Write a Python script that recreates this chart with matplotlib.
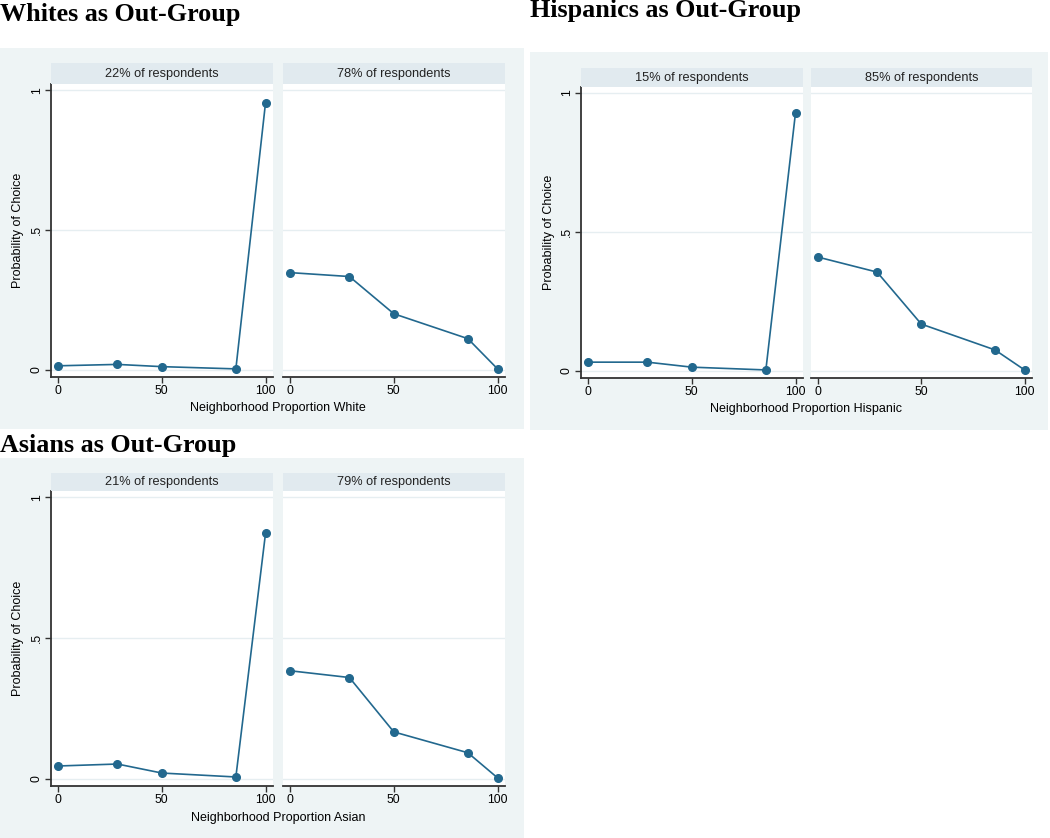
import matplotlib
matplotlib.use("Agg")
import matplotlib.pyplot as plt
from matplotlib.patches import Rectangle

W, H = 1050, 838

# neighborhood composition (percent out-group) shown in each card
x_prop = [0, 28.6, 50, 85.7, 100]

# Whites as out-group
white_share = ["22% of respondents", "78% of respondents"]
white_a = [0.015, 0.020, 0.012, 0.004, 0.955]
white_b = [0.348, 0.334, 0.201, 0.112, 0.004]

# Hispanics as out-group
hisp_share = ["15% of respondents", "85% of respondents"]
hisp_a = [0.032, 0.032, 0.014, 0.004, 0.930]
hisp_b = [0.410, 0.356, 0.169, 0.076, 0.004]

# Asians as out-group
asian_share = ["21% of respondents", "79% of respondents"]
asian_a = [0.046, 0.053, 0.021, 0.007, 0.872]
asian_b = [0.384, 0.360, 0.167, 0.093, 0.004]

BG = "#EEF4F5"
STRIP = "#E1EAEF"
LINE = "#22688E"
AXC = "#333333"

plt.rcParams["font.family"] = ["Liberation Sans", "DejaVu Sans"]

fig = plt.figure(figsize=(W / 100, H / 100), dpi=100)
fig.patch.set_facecolor("white")


def frac(x0, y0, x1, y1):
    return [x0 / W, 1 - y1 / H, (x1 - x0) / W, (y1 - y0) / H]


def panel(title, title_xy, bg, facets, top, bottom, strip_top, labels, series, xlabel, ylab_x, xlab_y):
    x0, y0, x1, y1 = bg
    fig.add_artist(Rectangle((x0 / W, 1 - y1 / H), (x1 - x0) / W, (y1 - y0) / H,
                             transform=fig.transFigure, facecolor=BG,
                             edgecolor="none", zorder=0))
    fig.text(title_xy[0] / W, 1 - title_xy[1] / H, title, family="Liberation Serif",
             fontweight="bold", fontsize=18.8, ha="left", va="center")

    for i, ((fx0, fx1), lab, yv) in enumerate(zip(facets, labels, series)):
        ax = fig.add_axes(frac(fx0, top, fx1, bottom))
        ax.set_facecolor("white")
        for g in (0, 0.5, 1):
            ax.axhline(g, color="#E6EEF1", lw=1.0, zorder=1)
        ax.plot(x_prop, yv, color=LINE, lw=1.2, marker="o", ms=5.5, zorder=3)
        ax.set_xlim(-3.4, 103.6)
        ax.set_ylim(-0.025, 1.022)
        ax.set_xticks([0, 50, 100])
        ax.tick_params(axis="x", direction="out", length=4, width=1, color=AXC,
                       labelsize=8.8, pad=1.5)
        for s in ("top", "right"):
            ax.spines[s].set_visible(False)
        ax.spines["bottom"].set_color(AXC)
        ax.spines["bottom"].set_linewidth(1.3)
        if i == 0:
            ax.spines["left"].set_color(AXC)
            ax.spines["left"].set_linewidth(1.3)
            ax.set_yticks([0, 0.5, 1])
            ax.set_yticklabels(["0", ".5", "1"], rotation=90, va="center")
            ax.tick_params(axis="y", direction="out", length=4, width=1, color=AXC,
                           labelsize=8.8, pad=2)
        else:
            ax.spines["left"].set_visible(False)
            ax.set_yticks([])

        sx = fig.add_axes(frac(fx0, strip_top, fx1, top))
        sx.set_facecolor(STRIP)
        sx.set_xticks([])
        sx.set_yticks([])
        for s in sx.spines.values():
            s.set_visible(False)
        sx.text(0.5, 0.5, lab, ha="center", va="center", fontsize=9.2,
                color="#222222", transform=sx.transAxes)

    mid = (facets[0][0] + facets[1][1]) / 2
    fig.text(mid / W, 1 - xlab_y / H, xlabel, ha="center", va="center", fontsize=9)
    fig.text(ylab_x / W, 1 - ((top + bottom) / 2) / H, "Probability of Choice",
             rotation=90, ha="center", va="center", fontsize=9)


panel("Whites as Out-Group", (0, 15), (0, 48, 524, 429),
      [(51, 273), (283, 505)], 84, 377, 63, white_share, [white_a, white_b],
      "Neighborhood Proportion White", 18, 408)

panel("Hispanics as Out-Group", (530, 11), (530, 52, 1048, 430),
      [(581, 803), (811, 1032)], 87, 378, 68, hisp_share, [hisp_a, hisp_b],
      "Neighborhood Proportion Hispanic", 549, 409)

panel("Asians as Out-Group", (0, 445), (0, 458, 524, 838),
      [(51, 273), (283, 505)], 491, 786, 473, asian_share, [asian_a, asian_b],
      "Neighborhood Proportion Asian", 18, 818)

fig.savefig("out.png", dpi=100, facecolor=fig.get_facecolor())
